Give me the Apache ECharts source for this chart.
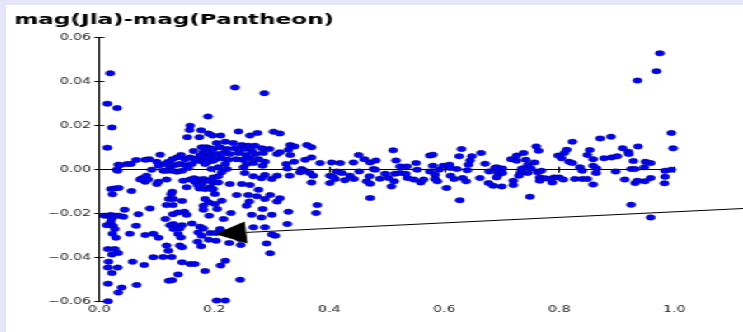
<!DOCTYPE html>
<html>
<head>
<meta charset="utf-8">
<script src="https://cdn.jsdelivr.net/npm/echarts@6/dist/echarts.min.js"></script>
<style>
  html, body { margin: 0; padding: 0; width: 743px; height: 332px; overflow: hidden; background: #e6e6fa; }
  /* the figure is drawn narrow and widened horizontally */
  #chart { position: absolute; left: 6px; top: 5px; width: 447px; height: 327px; background: #fff;
           transform: scaleX(1.6488); transform-origin: 0 0; }
</style>
</head>
<body>
<div id="chart"></div>
<script>
// Hubble residuals: [redshift, mag difference]
const ptsNear = [
  [0.019,0.0438],[0.014,0.030],[0.031,0.028],[0.022,0.0192],[0.014,0.010],[0.033,0.0023],[0.030,0.0],
  [0.189,0.0242],[0.158,0.020],[0.157,0.018],[0.177,0.0179],[0.153,0.0148],[0.174,0.0148],[0.190,0.0164],[0.164,0.0085],
  [0.178,0.0102],[0.186,0.0102],[0.193,0.0097],[0.181,0.0079],[0.190,0.0076],[0.175,0.0064],[0.184,0.0056],[0.193,0.0056],
  [0.172,0.0041],[0.181,0.0036],[0.190,0.0036],[0.198,0.0041],[0.184,0.0026],[0.166,0.0048],[0.158,0.0056],[0.149,0.0048],
  [0.142,0.0067],[0.135,0.0056],[0.127,0.0048],[0.120,0.0036],[0.114,0.0026],[0.106,0.0068],[0.087,0.0048],[0.080,0.0045],
  [0.064,0.0044],[0.036,0.002],[0.048,0.0026],[0.055,0.0026],[0.100,0.0036],[0.103,0.0018],[0.123,0.0011],[0.132,0.0021],
  [0.140,0.0026],[0.149,0.0021],[0.161,0.0026],
  [0.111,-0.0005],[0.117,-0.0005],[0.126,-0.0005],[0.135,-0.0009],[0.144,-0.0005],[0.155,0.0008],[0.032,-0.0005],[0.091,0.0],
  [0.074,-0.0039],[0.082,-0.0027],[0.080,-0.0055],[0.085,-0.0045],[0.071,-0.0045],[0.100,-0.0065],[0.103,-0.0055],[0.117,-0.0045],
  [0.146,-0.005],[0.158,-0.0045],[0.165,-0.0039],[0.172,-0.0045],[0.181,-0.0042],[0.166,-0.0055],[0.178,-0.0065],[0.190,-0.005],
  [0.198,-0.0035],[0.174,-0.0085],[0.184,-0.0088],[0.193,-0.008],[0.171,-0.007],[0.198,-0.0088],[0.152,-0.008],
  [0.020,-0.0088],[0.027,-0.0085],[0.034,-0.0083],[0.023,-0.0112],[0.056,-0.0097],
  [0.127,-0.010],[0.125,-0.0111],[0.121,-0.0133],[0.129,-0.0133],[0.117,-0.0161],[0.128,-0.0161],[0.144,-0.0142],
  [0.181,-0.0164],[0.181,-0.0182],[0.190,-0.0148],[0.184,-0.0133],[0.044,-0.0182],[0.088,-0.0176],
  [0.009,-0.0209],[0.016,-0.0209],[0.020,-0.0206],[0.027,-0.0209],[0.034,-0.0209],[0.042,-0.0214],[0.022,-0.0221],
  [0.020,-0.0236],[0.024,-0.0255],[0.027,-0.027],[0.023,-0.0291],[0.029,-0.0309],[0.013,-0.0252],
  [0.068,-0.0202],[0.064,-0.0255],[0.053,-0.0291],[0.080,-0.0297],[0.094,-0.0291],[0.103,-0.0309],
  [0.115,-0.0224],[0.123,-0.0252],[0.129,-0.0247],[0.135,-0.0262],[0.129,-0.027],
  [0.128,-0.0202],[0.137,-0.0194],[0.148,-0.0191],[0.152,-0.0205],[0.144,-0.0252],[0.140,-0.0267],[0.137,-0.0292],[0.142,-0.0308],
  [0.161,-0.0245],[0.175,-0.0259],[0.181,-0.0267],[0.172,-0.0285],[0.178,-0.030],[0.171,-0.0327],[0.177,-0.0348],
  [0.191,-0.0209],[0.193,-0.0288],[0.190,-0.0318],[0.117,-0.0345],[0.120,-0.0368],[0.140,-0.0345],[0.144,-0.0353],
  [0.015,-0.0361],[0.027,-0.0361],[0.033,-0.0379],[0.022,-0.0386],[0.016,-0.0418],[0.032,-0.0445],[0.022,-0.047],[0.015,-0.0445],
  [0.058,-0.0418],[0.078,-0.0433],[0.094,-0.0398],[0.111,-0.0397],[0.126,-0.0397],
  [0.144,-0.0421],[0.158,-0.0429],[0.166,-0.0429],[0.184,-0.0461],[0.137,-0.0476],[0.127,-0.0502],[0.121,-0.0505],
  [0.015,-0.0518],[0.039,-0.0536],[0.033,-0.0558],[0.065,-0.0524],[0.015,-0.0598]
];

const ptsCore = [
  [0.236,0.0374],[0.287,0.0348],[0.242,0.0174],[0.262,0.0155],[0.275,0.0167],[0.303,0.0173],[0.314,0.0165],[0.211,0.0155],[0.197,0.0155],
  [0.204,0.0121],[0.219,0.0127],[0.233,0.0121],[0.248,0.0112],[0.259,0.0109],[0.271,0.0109],[0.283,0.0097],[0.296,0.0094],
  [0.198,0.0094],[0.210,0.0102],[0.222,0.0094],[0.236,0.0097],[0.251,0.0094],[0.265,0.0086],
  [0.204,0.0071],[0.216,0.0076],[0.227,0.0071],[0.242,0.0076],[0.255,0.0067],[0.271,0.0071],[0.285,0.0076],
  [0.201,0.0048],[0.213,0.0052],[0.224,0.0045],[0.238,0.0048],[0.249,0.0045],[0.262,0.0052],[0.277,0.0048],
  [0.268,0.003],[0.256,0.0026],[0.219,0.0026],[0.207,0.0011],[0.195,0.0003],[0.222,0.0003],[0.251,0.0011],[0.284,0.0018],[0.288,0.0036],
  [0.309,0.0071],[0.314,0.0079],[0.332,0.0112],[0.340,0.0106],[0.329,0.0091],[0.361,0.0112],[0.369,0.0102],
  [0.332,0.0067],[0.339,0.0036],[0.325,0.0026],[0.327,0.0006],[0.358,0.0045],[0.369,0.0056],[0.384,0.003],[0.404,0.0033],
  [0.352,0.0003],[0.349,-0.0012],[0.356,-0.0005],[0.366,-0.0015],[0.372,-0.0027],[0.369,-0.0058],[0.401,-0.0027],[0.401,-0.0061],
  [0.331,-0.0027],[0.309,-0.0027],[0.288,-0.0024],[0.300,-0.0042],[0.282,-0.0039],[0.268,-0.003],[0.253,-0.0015],
  [0.213,-0.0012],[0.207,-0.003],[0.198,-0.0058],[0.207,-0.0058],[0.227,-0.0065],[0.195,-0.0088],[0.201,-0.0111],
  [0.213,-0.0141],[0.201,-0.0156],[0.205,-0.0179],
  [0.248,-0.0065],[0.262,-0.007],[0.277,-0.0091],[0.239,-0.0115],[0.259,-0.0115],[0.274,-0.0121],[0.297,-0.0115],
  [0.288,-0.0133],[0.309,-0.0145],[0.314,-0.013],[0.261,-0.0145],[0.256,-0.0164],[0.284,-0.0179],[0.329,-0.0191],
  [0.379,-0.0161],[0.377,-0.0197],
  [0.229,-0.0197],[0.216,-0.0224],[0.265,-0.0205],[0.300,-0.0205],[0.282,-0.0217],[0.327,-0.0247],[0.268,-0.0262],[0.288,-0.0262],
  [0.210,-0.027],[0.203,-0.0288],[0.224,-0.0285],[0.245,-0.0315],[0.300,-0.0294],[0.306,-0.030],[0.203,-0.0323],
  [0.226,-0.0333],[0.246,-0.0342],[0.291,-0.0335],[0.297,-0.038],
  [0.219,-0.0414],[0.211,-0.0436],[0.245,-0.050],[0.204,-0.0595],[0.219,-0.0595]
];

const ptsMid = [
  [0.419,0.003],[0.442,0.0033],[0.451,0.0067],[0.461,0.0048],[0.471,0.0033],[0.481,0.0042],[0.477,0.0003],
  [0.413,-0.0008],[0.422,-0.0015],[0.410,-0.0042],[0.427,-0.0048],[0.436,-0.0027],[0.443,-0.0042],[0.452,-0.0008],
  [0.465,-0.0053],[0.471,-0.0064],[0.471,-0.0129],[0.470,-0.003],[0.480,0.0],[0.488,-0.0041],[0.497,-0.0018],[0.503,-0.0038],
  [0.511,0.0088],[0.516,0.0042],[0.513,-0.0053],[0.508,-0.0076],[0.514,-0.0018],[0.523,0.0015],[0.535,0.0015],
  [0.523,-0.0015],[0.533,-0.0018],[0.536,-0.0038],[0.547,-0.0045],[0.551,0.003],[0.553,0.0],[0.559,-0.0058],[0.564,-0.0045],
  [0.575,0.0064],[0.580,0.0068],[0.575,-0.0008],[0.580,0.0018],[0.584,-0.0023],[0.584,-0.0042],[0.588,-0.0053],[0.591,0.0],
  [0.598,0.0018],[0.604,-0.0083],[0.609,0.0023],[0.610,0.0008],[0.611,-0.0027],[0.617,-0.0042],[0.622,0.0003],[0.626,0.0061],
  [0.630,0.0094],[0.627,-0.0139],[0.632,-0.0038],[0.638,-0.0053],[0.640,-0.0003],[0.642,0.0023],[0.645,0.0042],[0.648,0.0061],
  [0.664,0.0076],[0.662,-0.0038],[0.671,0.0027],[0.678,-0.0008],[0.685,-0.0073],[0.677,-0.0061],[0.688,0.0008],[0.694,-0.0023],
  [0.407,-0.0033]
];

const ptsFar = [
  [0.975,0.0529],[0.969,0.0448],[0.936,0.0405],[0.995,0.0167],[0.998,0.0097],[0.890,0.015],[0.871,0.0142],[0.823,0.0127],
  [0.760,0.0106],[0.764,0.0086],[0.738,0.0076],[0.726,0.0064],[0.716,0.0048],[0.726,0.0041],[0.742,0.0045],[0.757,0.0033],
  [0.745,0.0021],[0.735,0.0006],[0.751,0.0006],
  [0.691,0.0011],[0.701,0.0006],[0.693,-0.0012],[0.701,-0.0015],[0.691,-0.0035],[0.700,-0.0076],
  [0.733,-0.0012],[0.730,-0.0027],[0.720,-0.005],[0.720,-0.007],[0.745,-0.0015],[0.762,-0.0012],[0.769,-0.0005],[0.766,-0.0035],
  [0.775,-0.0039],[0.766,-0.005],[0.788,-0.0058],[0.791,-0.0035],[0.800,-0.0035],[0.807,-0.0045],[0.749,-0.0123],
  [0.798,0.0064],[0.804,0.0052],[0.809,0.0076],[0.813,0.0091],[0.817,0.0036],[0.823,0.003],[0.827,-0.0042],[0.836,0.0011],
  [0.840,-0.0005],[0.840,-0.0042],[0.849,-0.0042],[0.849,0.0067],[0.853,0.0089],[0.859,0.0048],[0.859,0.0018],[0.865,0.0006],
  [0.864,-0.0015],[0.859,-0.0067],
  [0.878,0.0052],[0.891,0.0056],[0.901,0.0061],[0.910,0.0098],[0.920,0.0082],[0.921,0.0071],[0.898,-0.0008],[0.914,-0.0045],
  [0.929,0.0039],[0.925,0.0003],[0.932,0.0003],[0.937,0.0106],[0.932,-0.0061],[0.936,-0.005],[0.948,0.0011],[0.950,0.0036],
  [0.959,0.003],[0.949,-0.0053],[0.959,-0.0038],[0.925,-0.0159],[0.959,-0.0217],[0.984,-0.0005],[0.984,-0.0032],
  [0.983,-0.0062],[0.995,0.0],[0.784,-0.0042]
];

// annotation arrow: from outside the right edge to the tip
const arrowTail = [1.25, -0.0160];
const arrowTip = [0.201, -0.0292];

const titleText = 'mag(Jla)-mag(Pantheon)';
const xRange = [0, 1, 0.2];
const yRange = [-0.06, 0.06, 0.02];

const chart = echarts.init(document.getElementById('chart'));

const fontFam = '"DejaVu Sans", sans-serif';
const axisLineStyle = { show: true, lineStyle: { color: '#000', width: 1 } };
const tickStyle = { show: true, inside: true, length: 3, lineStyle: { color: '#000', width: 1 } };
const labelStyle = { color: '#222', fontFamily: fontFam, fontSize: 8.5 };

function fmtY(v) {
  if (Math.abs(v) < 1e-9) return '0.00';
  const s = v.toFixed(2);
  return s.charAt(0) === '-' ? '\u2212' + s.slice(1) : s;
}

chart.setOption({
  animation: false,
  backgroundColor: '#fff',
  title: {
    text: titleText,
    left: 5, top: 8, padding: 0,
    textStyle: { fontFamily: fontFam, fontWeight: 'bold', fontSize: 14, color: '#000' }
  },
  grid: { left: 56.6, right: 41.7, top: 32.7, bottom: 30.3, containLabel: false },
  xAxis: [
    { type: 'value', position: 'bottom', min: xRange[0], max: xRange[1], interval: xRange[2],
      axisLine: axisLineStyle, axisTick: tickStyle, splitLine: { show: false },
      axisLabel: Object.assign({ margin: 4, formatter: v => v.toFixed(1) }, labelStyle) },
    { type: 'value', position: 'top', min: xRange[0], max: xRange[1], interval: xRange[2],
      axisLine: axisLineStyle, axisTick: tickStyle, splitLine: { show: false }, axisLabel: { show: false } }
  ],
  yAxis: [
    { type: 'value', position: 'left', min: yRange[0], max: yRange[1], interval: yRange[2],
      axisLine: axisLineStyle, axisTick: tickStyle, splitLine: { show: false },
      axisLabel: Object.assign({ margin: 5, formatter: fmtY }, labelStyle) },
    { type: 'value', position: 'right', min: yRange[0], max: yRange[1], interval: yRange[2],
      axisLine: axisLineStyle, axisTick: tickStyle, splitLine: { show: false }, axisLabel: { show: false } }
  ],
  series: [
    {
      type: 'scatter',
      data: [].concat(ptsNear, ptsCore, ptsMid, ptsFar),
      symbol: 'circle',
      symbolSize: 5.5,
      itemStyle: { color: '#0000ff', borderColor: '#000040', borderWidth: 0.4, opacity: 1 },
      emphasis: { disabled: true },
      z: 2
    },
    {
      type: 'custom',
      data: [[arrowTail[0], arrowTail[1], arrowTip[0], arrowTip[1]]],
      dimensions: ['x0', 'y0', 'x1', 'y1'],
      encode: { x: [0, 2], y: [1, 3] },
      clip: false,
      z: 5,
      renderItem: function (params, api) {
        const a = api.coord([api.value(0), api.value(1)]);
        const b = api.coord([api.value(2), api.value(3)]);
        const dx = b[0] - a[0], dy = b[1] - a[1];
        const len = Math.sqrt(dx * dx + dy * dy);
        const ux = dx / len, uy = dy / len;
        const headLen = 19, headHalf = 11;
        const bx = b[0] - ux * headLen, by = b[1] - uy * headLen;
        return {
          type: 'group',
          children: [
            { type: 'line', shape: { x1: a[0], y1: a[1], x2: bx, y2: by },
              style: { stroke: '#000', lineWidth: 1 } },
            { type: 'polygon',
              shape: { points: [[b[0], b[1]], [bx - uy * headHalf, by + ux * headHalf], [bx + uy * headHalf, by - ux * headHalf]] },
              style: { fill: '#000' } }
          ]
        };
      }
    }
  ]
});
</script>
</body>
</html>
